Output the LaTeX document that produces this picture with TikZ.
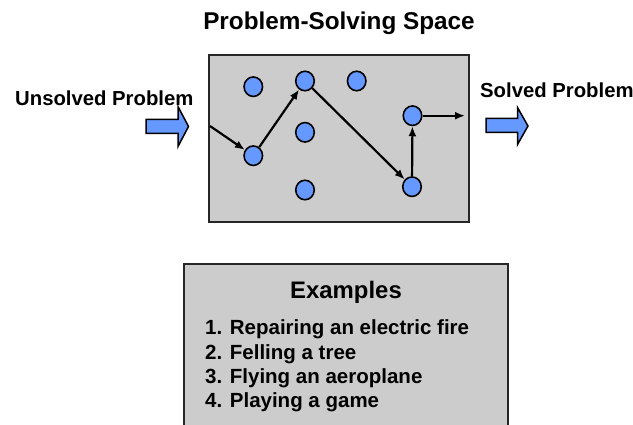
\documentclass[tikz,border=0pt]{standalone}
\usepackage{fontspec}
\setmainfont{Liberation Sans}
\usetikzlibrary{arrows.meta,shapes.geometric}
\definecolor{panelgray}{RGB}{204,204,204}
\definecolor{dotblue}{RGB}{102,153,255}
\begin{document}
\begin{tikzpicture}[x=1pt,y=-1pt,
  panel/.style={fill=panelgray,draw=black!85,line width=2pt},
  dot/.style={ellipse,minimum width=18.5pt,minimum height=19.5pt,inner sep=0pt,
    fill=dotblue,draw=black,line width=1.6pt},
  conn/.style={line width=2.2pt,-{Latex[length=10pt,width=8pt]}},
  blockarrow/.style={fill=dotblue,draw=black,line width=1.5pt,line join=miter},
  lbl/.style={inner sep=0pt,font=\bfseries\fontsize{#1}{#1}\selectfont},
]
\useasboundingbox (0,0) rectangle (633,425);

% title
\node[lbl=24.3,anchor=base] (title) at (339,29.3) {Problem-Solving Space};

% problem-solving space
\filldraw[panel] (209.3,55) rectangle (469.3,221.7);

% states
\node[dot] (c1) at (253.3,86.7) {};
\node[dot] (c2) at (305,81) {};
\node[dot] (c3) at (356.7,81) {};
\node[dot] (c4) at (305,132.3) {};
\node[dot] (c5) at (253.3,155.7) {};
\node[dot] (c6) at (305,190) {};
\node[dot] (c7) at (412.5,115.7) {};
\node[dot] (c8) at (412,186.7) {};

% solution path
\coordinate (entry) at (210,126);
\coordinate (exit) at (465,115.7);
\draw[conn] (entry) -- (c5);
\draw[conn] (c5) -- (c2);
\draw[conn] (c2) -- (c8);
\draw[conn] (c8) -- (c7);
\draw[conn] (c7) -- (exit);

% side labels
\node[lbl=20.3,anchor=base west] (unsolved) at (15,105.7) {Unsolved Problem};
\node[lbl=20.3,anchor=base west] (solved) at (480,98) {Solved Problem};

% block arrows
\draw[blockarrow] (146,119.5) -- (178,119.5) -- (178,106.5) -- (188.5,126.5)
  -- (178,146.5) -- (178,133.5) -- (146,133.5) -- cycle;
\draw[blockarrow] (486,118.5) -- (517.5,118.5) -- (517.5,107.5) -- (528,126)
  -- (517.5,144.5) -- (517.5,132.5) -- (486,132.5) -- cycle;

% examples panel, running off the lower edge
\fill[panelgray] (184.3,264.3) rectangle (508,426);
\draw[line width=2pt,draw=black!85] (184.3,427) -- (184.3,264.3) -- (508,264.3) -- (508,427);
\node[lbl=23.9,anchor=base] (examples) at (346,298.3) {Examples};
\node[lbl=20.5,anchor=base west] (ex1) at (205,334.3) {1. Repairing an electric fire};
\node[lbl=20.5,anchor=base west] (ex2) at (205,359.3) {2. Felling a tree};
\node[lbl=20.5,anchor=base west] (ex3) at (205,383.3) {3. Flying an aeroplane};
\node[lbl=20.5,anchor=base west] (ex4) at (205,407.3) {4. Playing a game};
\end{tikzpicture}
\end{document}
